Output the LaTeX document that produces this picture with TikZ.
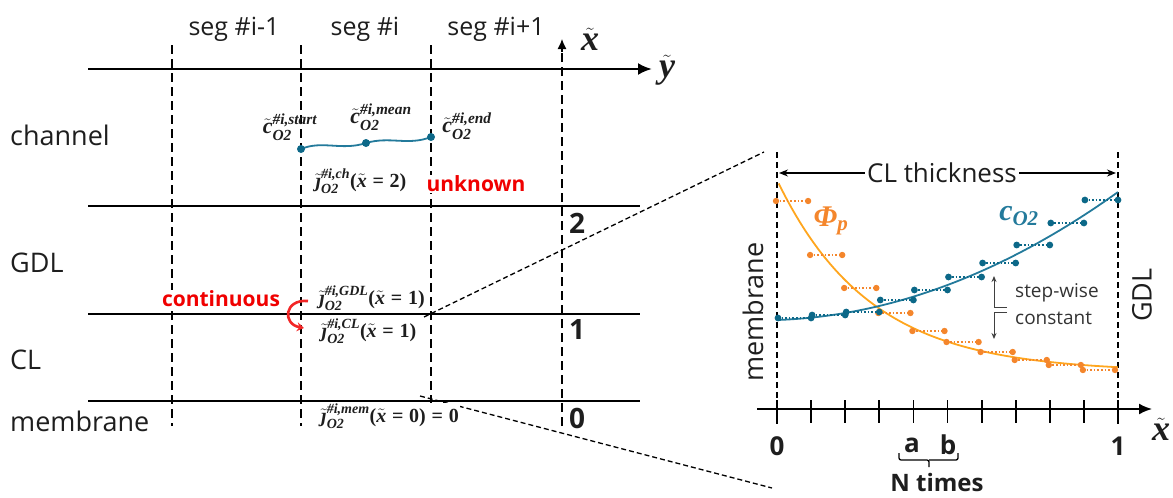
\documentclass[tikz,border=0pt]{standalone}
\usepackage{fontspec}
\setmainfont{Open Sans}
\newfontfamily\mfont{Liberation Serif}
\usepackage{amsmath}
\usetikzlibrary{arrows.meta}
\definecolor{tealc}{RGB}{35,122,155}
\definecolor{tealdot}{RGB}{12,104,136}
\definecolor{orc}{RGB}{255,166,30}
\definecolor{ordot}{RGB}{244,134,44}
\definecolor{redc}{RGB}{240,0,0}
\definecolor{txt}{RGB}{30,30,30}
\newcommand{\bi}[1]{\text{\mfont\bfseries\itshape #1}}
\newcommand{\bu}[1]{\text{\mfont\bfseries #1}}
\begin{document}
\begin{tikzpicture}[x=1pt,y=-1pt,
  sans/.style={font=\fontsize{27}{32}\selectfont, text=txt, inner sep=0pt},
  seglab/.style={font=\fontsize{25}{30}\selectfont, text=txt, inner sep=0pt},
  num/.style={font=\bfseries\fontsize{28}{32}\selectfont, text=txt, inner sep=0pt},
  mlab/.style={font=\fontsize{20}{22}\selectfont, text=txt, inner sep=1pt, fill=white},
  clab/.style={font=\fontsize{22}{24}\selectfont, text=txt, inner sep=0pt},
  redlab/.style={font=\bfseries\fontsize{21}{24}\selectfont, text=redc, inner sep=1pt, fill=white},
  segdash/.style={line width=2.2pt, dash pattern=on 9pt off 5pt},
  layerline/.style={line width=2.2pt},
  zoomdash/.style={line width=1.3pt, dash pattern=on 5pt off 3pt},
  plotdash/.style={line width=1.6pt, dash pattern=on 6pt off 4pt},
  thin/.style={line width=1pt, draw=black!75},
  biglab/.style={font=\fontsize{36}{38}\selectfont, text=txt, inner sep=0pt},
]
\path[use as bounding box] (0,0) rectangle (1173,498);

% ---------- left diagram ----------
\coordinate (ys) at (88,69);
\coordinate (ye) at (652,69);
\draw[line width=2.5pt, -{Latex[length=14pt,width=12pt]}] (ys) -- (ye);
\node[biglab] (ylab) at (667,70) {$\tilde{\bi{y}}$};

\foreach \xx in {172,301,431} {
  \draw[segdash] (\xx,45) -- (\xx,426);
}
\draw[segdash] (562,426) -- (562,52);
\draw[line width=1.2pt, -{Latex[length=10pt,width=9pt]}] (562,52) -- (562,39);
\node[biglab] (xlab) at (590,39) {$\tilde{\bi{x}}$};

\node[seglab] (s1) at (234,29) {seg \#i-1};
\node[seglab] (s2) at (365,29) {seg \#i};
\node[seglab] (s3) at (496,29) {seg \#i+1};

\foreach \yy in {206,314,401} {
  \draw[layerline] (88,\yy) -- (640,\yy);
}

\node[sans, anchor=west] (lch) at (10,135) {channel};
\node[sans, anchor=west] (lgdl) at (10,263) {GDL};
\node[sans, anchor=west] (lcl) at (10,360) {CL};
\node[sans, anchor=west] (lmem) at (10,421) {membrane};

\node[num] (n2) at (577,223) {2};
\node[num] (n1) at (577,330) {1};
\node[num] (n0) at (577,418) {0};

% zoom lines
\coordinate (zA) at (424,317);
\coordinate (zB) at (764,152);
\coordinate (zC) at (420,396);
\coordinate (zD) at (772,488);
\draw[zoomdash] (zA) -- (zB);
\draw[zoomdash] (zC) -- (zD);

% channel concentration
\coordinate (cs) at (301,149);
\coordinate (cm) at (366,143);
\coordinate (ce) at (431,137);
\draw[tealc, line width=1.8pt] (cs) .. controls (322,140) and (342,151) .. (cm)
   .. controls (390,136) and (408,146) .. (ce);
\fill[tealdot] (cs) circle[radius=4pt];
\fill[tealdot] (cm) circle[radius=4pt];
\fill[tealdot] (ce) circle[radius=4pt];
\node[clab] (cstart) at (290,127) {$\tilde{\bi{c}}^{\bi{\#i,start}}_{\bi{O2}}$};
\node[clab] (cmean) at (381,117) {$\tilde{\bi{c}}^{\bi{\#i,mean}}_{\bi{O2}}$};
\node[clab] (cend) at (467,126) {$\tilde{\bi{c}}^{\bi{\#i,end}}_{\bi{O2}}$};

% flux labels
\node[mlab] (jch) at (361,181) {$\tilde{\bi{ȷ}}^{\bi{\#i,ch}}_{\bi{O2}}\bu{(}\tilde{\bi{x}}\mathrel{\bu{=}}\bu{2}\bu{)}$};
\node[redlab] (unk) at (476,184) {unknown};
\node[redlab] (cont) at (221,299) {continuous};
\node[mlab] (jgdl) at (372,298) {$\tilde{\bi{ȷ}}^{\bi{\#i,GDL}}_{\bi{O2}}\bu{(}\tilde{\bi{x}}\mathrel{\bu{=}}\bu{1}\bu{)}$};
\node[mlab] (jcl) at (369,331) {$\tilde{\bi{ȷ}}^{\bi{\#i,CL}}_{\bi{O2}}\bu{(}\tilde{\bi{x}}\mathrel{\bu{=}}\bu{1}\bu{)}$};
\node[mlab] (jmem) at (390,416) {$\tilde{\bi{ȷ}}^{\bi{\#i,mem}}_{\bi{O2}}\bu{(}\tilde{\bi{x}}\mathrel{\bu{=}}\bu{0}\bu{)}\mathrel{\bu{=}}\bu{0}$};

% red curved arrow
\draw[redc!85, line width=2.6pt, -{Stealth[length=7pt,width=9pt]}]
  (308,301) .. controls (284,299) and (282,324) .. (304,328);

% ---------- right plot ----------
\draw[plotdash] (777,152) -- (777,424);
\draw[plotdash] (1118,152) -- (1118,424);

\node[font=\fontsize{26}{30}\selectfont, text=txt, fill=white, inner sep=2pt] (clt) at (942,173) {CL thickness};
\draw[line width=1.1pt, -{Stealth[length=9pt,width=7pt]}] (clt.west) -- (779,173);
\draw[line width=1.1pt, -{Stealth[length=9pt,width=7pt]}] (clt.east) -- (1116,173);

\node[sans, rotate=90] (pmem) at (753,312) {membrane};
\node[sans, rotate=90] (pgdl) at (1142,295) {GDL};

% curves
\draw[orc, line width=1.8pt] plot[domain=0.005:1, samples=80, smooth]
  ({777+341*\x},{372-192*exp(-3.69*\x)});
\draw[tealc, line width=1.8pt] plot[domain=0.005:1, samples=60, smooth]
  ({777+341*\x},{320-12*\x-116*\x*\x});

% step-wise dots
\foreach \i/\v in {0/201,1/255,2/288,3/313,4/331,5/342,6/352,7/360,8/365,9/370} {
  \draw[ordot, line width=1.6pt, dotted] ({776+34.1*\i},\v) -- ({776+34.1*(\i+1)-2},\v);
  \fill[ordot] ({776+34.1*\i},\v) circle[radius=3.2pt];
  \fill[ordot] ({776+34.1*(\i+1)-2},\v) circle[radius=3.2pt];
}
\foreach \i/\v in {0/318,1/315,2/312,3/300,4/290,5/277,6/263,7/245,8/223,9/200} {
  \draw[tealdot, line width=1.6pt, dotted] ({778+34.1*\i},\v) -- ({778+34.1*(\i+1)-1},\v);
  \fill[tealdot] ({778+34.1*\i},\v) circle[radius=3.4pt];
  \fill[tealdot] ({778+34.1*(\i+1)-1},\v) circle[radius=3.4pt];
}

\node[font=\fontsize{30}{32}\selectfont, text=ordot, inner sep=0pt] (phi) at (831,221) {$\bi{Φ}_{\bi{p}}$};
\node[font=\fontsize{30}{32}\selectfont, text=tealc, inner sep=0pt] (co2) at (1019,216) {$\bi{c}_{\bi{O2}}$};

% step-wise constant marker
\coordinate (m1) at (994,307);
\coordinate (m2) at (994,312);
\draw[thin, -{Stealth[length=6pt,width=5pt]}] (m1) -- (994,276);
\draw[thin] (m1) -- (1007,307);
\draw[thin] (1007,312) -- (m2);
\draw[thin, -{Stealth[length=6pt,width=5pt]}] (m2) -- (994,339);
\node[font=\fontsize{19}{22}\selectfont, text=black!80, inner sep=0pt, anchor=west] (sw1) at (1015,293) {step-wise};
\node[font=\fontsize{19}{22}\selectfont, text=black!80, inner sep=0pt, anchor=west] (sw2) at (1015,318) {constant};

% axis
\draw[line width=1.8pt, -{Latex[length=13pt,width=11pt]}] (757,409) -- (1152,409);
\foreach \i in {0,...,10} {
  \draw[line width=1.8pt] ({777+34.1*\i},400) -- ({777+34.1*\i},423);
}
\node[biglab] (xlab2) at (1161,429) {$\tilde{\bi{x}}$};
\node[num, font=\bfseries\fontsize{26}{30}\selectfont] (p0) at (777,446) {0};
\node[num, font=\bfseries\fontsize{26}{30}\selectfont] (p1) at (1118,446) {1};
\node[num, font=\bfseries\fontsize{26}{30}\selectfont] (pa) at (912,445) {a};
\node[num, font=\bfseries\fontsize{26}{30}\selectfont] (pb) at (948,445) {b};
\draw[line width=1.3pt, rounded corners=2pt] (899,453) |- (929,460) -- (929,467);
\draw[line width=1.3pt, rounded corners=2pt] (929,460) -| (958,453);
\node[num, font=\bfseries\fontsize{24}{28}\selectfont] (nt) at (937,482) {N times};
\end{tikzpicture}
\end{document}
